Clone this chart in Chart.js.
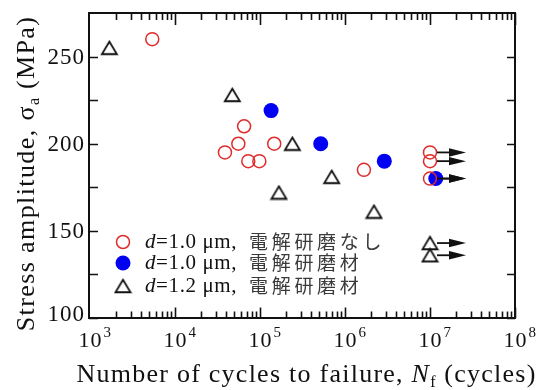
<!DOCTYPE html>
<html>
<head>
<meta charset="utf-8">
<script src="https://cdn.jsdelivr.net/npm/chart.js@4/dist/chart.umd.min.js"></script>
<style>
  html, body { margin: 0; padding: 0; background: #fff; }
  #c { display: block; }
</style>
</head>
<body>
<canvas id="c" width="542" height="390" style="width:542px;height:390px"></canvas>
<script>
// S-N data: number of cycles to failure (N) and stress amplitude (MPa)
const electroN = [5400, 38700, 55600, 65000, 72800, 98200, 147000, 1670000, 1e7, 1e7, 1e7];
const electroS = [260, 195, 200, 210, 190, 190, 200, 185, 195, 190, 180];
const electroRunout = [0, 0, 0, 0, 0, 0, 0, 0, 1, 1, 1];

const polishedN = [135000, 518000, 2900000, 11700000];
const polishedS = [219, 200, 190, 180];
const polishedRunout = [0, 0, 0, 1];

const coarseN = [1690, 47200, 167000, 240000, 698000, 2190000, 1e7, 1e7];
const coarseS = [255, 228, 172, 200, 181, 161, 143, 136];
const coarseRunout = [0, 0, 0, 0, 0, 0, 1, 1];

// legend text
const legendSize = ['1.0', '1.0', '1.2'];
const legendTreat = ['電解研磨なし', '電解研磨材', '電解研磨材'];

// axis ticks
const yMajorTicks = [100, 150, 200, 250];
const yMinorTicks = [125, 175, 225];
const xDecades = [3, 4, 5, 6, 7, 8];

const SERIF = "'Liberation Serif', 'Times New Roman', serif";
const CJK = "'Noto Sans CJK JP', 'Noto Sans CJK SC', sans-serif";
const RED = '#e02b2b';
const BLUE = '#0000f2';
const INK = '#111';

function triangleImage(w, h, lw, color) {
  const c = document.createElement('canvas');
  c.width = w + 4; c.height = h + 4;
  const g = c.getContext('2d');
  g.strokeStyle = color; g.lineWidth = lw; g.lineJoin = 'miter';
  const cx = c.width / 2, cy = c.height / 2;
  g.beginPath();
  g.moveTo(cx, cy - h / 2);
  g.lineTo(cx + w / 2, cy + h / 2);
  g.lineTo(cx - w / 2, cy + h / 2);
  g.closePath();
  g.stroke();
  return c;
}
const triImg = triangleImage(15, 12.5, 1.8, INK);

function toPoints(xs, ys) { return xs.map((x, i) => ({ x: x, y: ys[i] })); }

function runsWidth(ctx, runs) {
  let w = 0;
  for (const r of runs) {
    ctx.font = r.font; ctx.letterSpacing = (r.ls || 0) + 'px';
    w += ctx.measureText(r.text).width;
  }
  return w;
}
function drawRuns(ctx, runs, x, y) {
  for (const r of runs) {
    ctx.font = r.font; ctx.letterSpacing = (r.ls || 0) + 'px';
    ctx.fillStyle = r.color || INK;
    ctx.fillText(r.text, x, y + (r.dy || 0));
    x += ctx.measureText(r.text).width;
  }
  ctx.letterSpacing = '0px';
  return x;
}

function drawArrow(ctx, x0, x1, y) {
  const headLen = 17, headHalf = 4.2;
  ctx.save();
  ctx.strokeStyle = INK; ctx.fillStyle = INK; ctx.lineWidth = 1.8;
  ctx.beginPath(); ctx.moveTo(x0, y); ctx.lineTo(x1 - headLen + 2, y); ctx.stroke();
  ctx.beginPath();
  ctx.moveTo(x1, y);
  ctx.lineTo(x1 - headLen, y - headHalf);
  ctx.lineTo(x1 - headLen, y + headHalf);
  ctx.closePath(); ctx.fill();
  ctx.restore();
}

const axesPlugin = {
  id: 'snAxes',
  afterDatasetsDraw(chart) {
    const ctx = chart.ctx, xs = chart.scales.x, ys = chart.scales.y;
    const tipX = xs.getPixelForValue(1e7) + 36;
    const groups = [[electroN, electroS, electroRunout], [polishedN, polishedS, polishedRunout], [coarseN, coarseS, coarseRunout]];
    for (const [ns, ss, ro] of groups) {
      ns.forEach((n, i) => {
        if (!ro[i]) return;
        drawArrow(ctx, xs.getPixelForValue(n) + 7, tipX, ys.getPixelForValue(ss[i]));
      });
    }
  },
  afterDraw(chart) {
    const ctx = chart.ctx, a = chart.chartArea, xs = chart.scales.x, ys = chart.scales.y;
    ctx.save();
    ctx.strokeStyle = INK; ctx.lineWidth = 2;
    ctx.strokeRect(a.left - 1, a.top, a.right - a.left + 1, a.bottom - a.top);

    // inward ticks on left and right
    ctx.lineWidth = 1.6;
    ctx.beginPath();
    for (const v of yMajorTicks.concat(yMinorTicks)) {
      const py = Math.round(ys.getPixelForValue(v)) + 0.5;
      ctx.moveTo(a.left - 1, py); ctx.lineTo(a.left + 8, py);
      ctx.moveTo(a.right, py); ctx.lineTo(a.right - 8, py);
    }
    // log ticks on bottom and top
    for (let d = 0; d < xDecades.length - 1; d++) {
      const base = Math.pow(10, xDecades[d]);
      for (let m = 2; m <= 10; m++) {
        const px = Math.round(xs.getPixelForValue(m * base)) + 0.5;
        const major = m === 10;
        ctx.moveTo(px, a.bottom); ctx.lineTo(px, a.bottom - (major ? 10.5 : 6.5));
        ctx.moveTo(px, a.top); ctx.lineTo(px, a.top + (major ? 12 : 7));
      }
    }
    ctx.stroke();

    // y tick labels
    ctx.textBaseline = 'middle';
    for (const v of yMajorTicks) {
      const runs = [{ text: String(v), font: `23px ${SERIF}`, ls: 1 }];
      const w = runsWidth(ctx, runs) - 1;
      const lift = v === yMajorTicks[0] ? -3 : 1;
      drawRuns(ctx, runs, a.left - 6 - w, ys.getPixelForValue(v) + lift);
    }
    // x tick labels 10^n
    ctx.textBaseline = 'alphabetic';
    for (const e of xDecades) {
      const px = xs.getPixelForValue(Math.pow(10, e));
      ctx.font = `22px ${SERIF}`; ctx.letterSpacing = '1px';
      const w10 = ctx.measureText('10').width - 1;
      const x0 = px - w10 / 2;
      drawRuns(ctx, [{ text: '10', font: `22px ${SERIF}`, ls: 1 }], x0, a.bottom + 29);
      drawRuns(ctx, [{ text: String(e), font: `15px ${SERIF}` }], x0 + w10 + 2, a.bottom + 19);
    }

    // x axis title
    const xt = [
      { text: 'Number of cycles to failure, ', font: `26px ${SERIF}`, ls: 1.25 },
      { text: 'N', font: `italic 26px ${SERIF}`, ls: 1.25 },
      { text: 'f', font: `16px ${SERIF}`, dy: 5, ls: 1 },
      { text: ' (cycles)', font: `26px ${SERIF}`, ls: 1.25 }
    ];
    const xtw = runsWidth(ctx, xt);
    drawRuns(ctx, xt, (a.left + a.right) / 2 + 4 - xtw / 2, a.bottom + 63.5);

    // y axis title
    const yt = [
      { text: 'Stress amplitude, ', font: `26px ${SERIF}`, ls: 1.4 },
      { text: 'σ', font: `26px ${SERIF}`, ls: 1.4 },
      { text: 'a', font: `16px ${SERIF}`, dy: 5, ls: 1 },
      { text: ' (MPa)', font: `26px ${SERIF}`, ls: 1.4 }
    ];
    const ytw = runsWidth(ctx, yt);
    ctx.save();
    ctx.translate(34, (a.top + a.bottom) / 2 + 8);
    ctx.rotate(-Math.PI / 2);
    drawRuns(ctx, yt, -ytw / 2, 0);
    ctx.restore();

    // legend
    const mx = 123, rows = [242, 263, 286];
    ctx.lineWidth = 1.5; ctx.strokeStyle = RED;
    ctx.beginPath(); ctx.arc(mx, rows[0], 6.5, 0, Math.PI * 2); ctx.stroke();
    ctx.fillStyle = BLUE;
    ctx.beginPath(); ctx.arc(mx, rows[1], 7.5, 0, Math.PI * 2); ctx.fill();
    ctx.drawImage(triImg, mx - triImg.width / 2, rows[2] - triImg.height / 2);

    ctx.textBaseline = 'alphabetic';
    rows.forEach((ry, i) => {
      const base = ry + 6;
      drawRuns(ctx, [
        { text: 'd', font: `italic 21px ${SERIF}`, ls: 0.6 },
        { text: '=' + legendSize[i] + ' μm,', font: `21px ${SERIF}`, ls: 0.6 }
      ], 145, base);
      let x = 249;
      ctx.font = `19px ${CJK}`; ctx.letterSpacing = '0px'; ctx.fillStyle = '#3a3a3a';
      for (const ch of legendTreat[i]) {
        ctx.fillText(ch, x, base + 1);
        x += 22.7;
      }
    });
    ctx.restore();
  }
};

new Chart(document.getElementById('c'), {
  type: 'scatter',
  data: {
    datasets: [
      {
        label: 'd=1.0 μm, 電解研磨なし',
        data: toPoints(electroN, electroS),
        pointStyle: 'circle', pointRadius: 6.5, borderWidth: 1.5,
        borderColor: RED, backgroundColor: 'rgba(0,0,0,0)'
      },
      {
        label: 'd=1.0 μm, 電解研磨材',
        data: toPoints(polishedN, polishedS),
        pointStyle: 'circle', pointRadius: 7.5, borderWidth: 0,
        borderColor: BLUE, backgroundColor: BLUE
      },
      {
        label: 'd=1.2 μm, 電解研磨材',
        data: toPoints(coarseN, coarseS),
        pointStyle: triImg, pointRadius: 8,
        borderColor: INK, backgroundColor: 'rgba(0,0,0,0)'
      }
    ]
  },
  options: {
    responsive: false,
    devicePixelRatio: 1,
    animation: false,
    events: [],
    layout: { padding: { left: 90, right: 27, top: 13, bottom: 72 } },
    plugins: { legend: { display: false }, tooltip: { enabled: false } },
    scales: {
      x: { type: 'logarithmic', min: 1e3, max: 1e8, display: false },
      y: { type: 'linear', min: 100, max: 275, display: false }
    }
  },
  plugins: [axesPlugin]
});
</script>
</body>
</html>
